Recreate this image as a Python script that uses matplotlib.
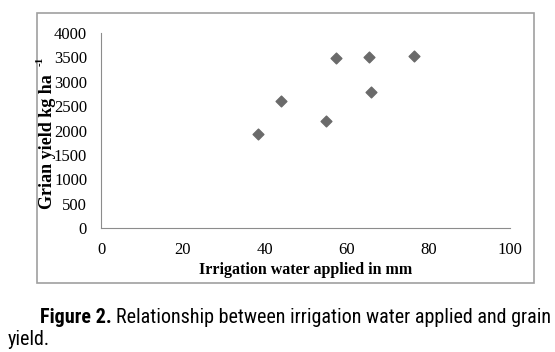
import matplotlib.pyplot as plt
from matplotlib.patches import Rectangle

# irrigation water (mm) vs grain yield (kg/ha)
water = [38.5, 44, 55, 57.5, 65.5, 66, 76.5]
grain_yield = [1920, 2600, 2200, 3480, 3500, 2800, 3540]

x_ticks = [0, 20, 40, 60, 80, 100]
y_ticks = [0, 500, 1000, 1500, 2000, 2500, 3000, 3500, 4000]

cap_font = ['Roboto Condensed', 'Liberation Sans Narrow', 'Roboto']

fig = plt.figure(figsize=(5.55, 3.52), dpi=100)

# chart border like the excel frame
fig.patches.append(Rectangle((0.067, 0.196), 0.895, 0.767, transform=fig.transFigure,
                             fill=False, edgecolor='#a0a0a0', linewidth=1.2))

ax = fig.add_axes([0.182, 0.352, 0.737, 0.554])
ax.scatter(water, grain_yield, marker='D', s=30, color='#6a6a6a', zorder=3)

ax.set_xlim(0, 100)
ax.set_ylim(0, 4000)
ax.set_xticks(x_ticks)
ax.set_yticks(y_ticks)
ax.tick_params(length=0, labelsize=12, pad=10)
for lab in ax.get_xticklabels() + ax.get_yticklabels():
    lab.set_fontfamily('Liberation Serif')

for s in ['top', 'right']:
    ax.spines[s].set_visible(False)
for s in ['left', 'bottom']:
    ax.spines[s].set_color('#8c8c8c')

ax.set_xlabel('Irrigation water applied in mm', fontsize=11.5, fontweight='bold',
              family='Liberation Serif', labelpad=3)

# y label with a small superscript placed by hand
fig.text(0.086, 0.597, 'Grian yield kg ha', rotation=90, fontsize=13, fontweight='bold',
         family='Liberation Serif', ha='center', va='center')
fig.text(0.072, 0.825, '-1', rotation=90, fontsize=8, fontweight='bold',
         family='Liberation Serif', ha='center', va='center')

# caption below the chart
fig.canvas.draw()
r = fig.canvas.get_renderer()
t1 = fig.text(0.072, 0.082, 'Figure 2.', fontsize=13, family=cap_font, fontweight='bold',
              va='baseline')
bb = t1.get_window_extent(r)
t2 = fig.text((bb.x1 + 4) / fig.bbox.width, 0.082,
              'Relationship between irrigation water applied and grain',
              fontsize=13, family=cap_font, va='baseline')
# fit to the width of the reference line
w = t2.get_window_extent(r).x1
target = 551
scale = (target - bb.x0) / (w - bb.x0)
t1.set_fontsize(13 * scale)
bb = t1.get_window_extent(r)
t2.set_x((bb.x1 + 4) / fig.bbox.width)
t2.set_fontsize(13 * scale)
fig.text(0.014, 0.02, 'yield.', fontsize=t2.get_fontsize(), family=cap_font, va='baseline')

plt.savefig('out.png', dpi=100)
